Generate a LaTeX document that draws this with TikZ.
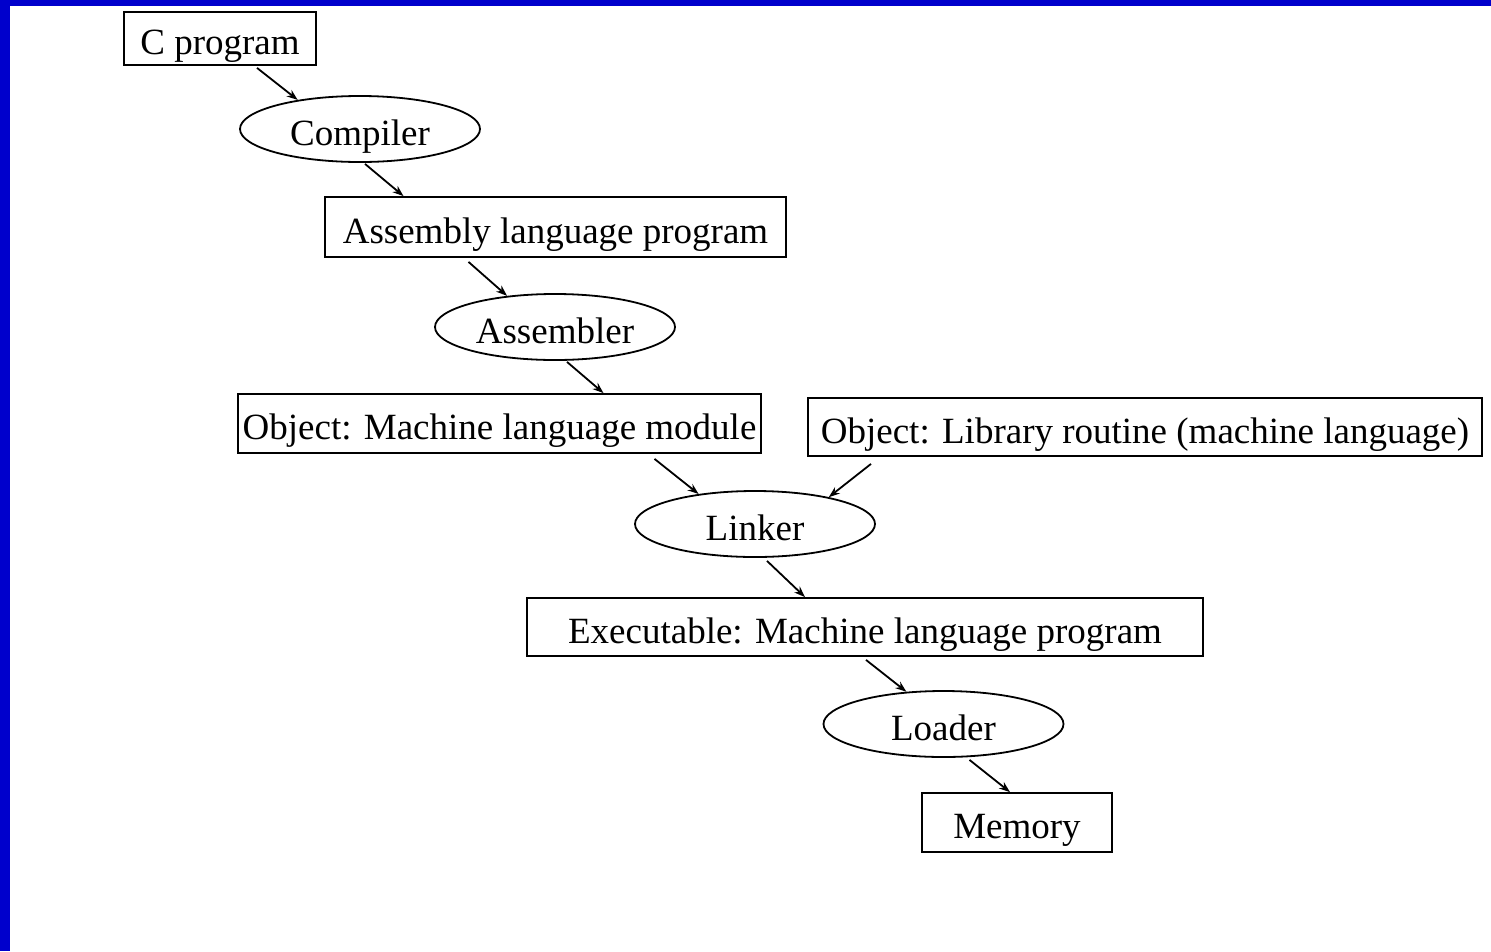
\documentclass[tikz,border=0pt]{standalone}
\usepackage{fontspec}
\setmainfont{Liberation Serif}
\usetikzlibrary{shapes.geometric,arrows.meta}
\definecolor{frameblue}{RGB}{0,0,204}
\tikzset{
  box/.style={draw=black, line width=1.8pt, rectangle, inner sep=0pt, minimum height=58pt, text height=32pt, text depth=0pt, font=\fontsize{37}{40}\selectfont},
  proc/.style={draw=black, line width=1.8pt, ellipse, inner sep=0pt, minimum width=240pt, minimum height=66pt, text height=32pt, text depth=0pt, font=\fontsize{37}{40}\selectfont},
  flow/.style={line width=1.8pt, -{Stealth[length=11pt,width=8pt]}}
}
\begin{document}
\begin{tikzpicture}[x=1pt,y=-1pt]
\useasboundingbox (0,0) rectangle (1491,951);
\fill[white] (0,0) rectangle (1491,951);
\fill[frameblue] (0,0) rectangle (10,951);
\fill[frameblue] (0,0) rectangle (1491,6);

\node[box, minimum width=192pt, minimum height=53pt] (cprog) at (220,38.5) {C program};
\node[proc] (compiler) at (360,129) {Compiler};
\node[box, minimum width=461pt, minimum height=60pt] (asm) at (555.5,227) {Assembly language program};
\node[proc] (assembler) at (555,327) {Assembler};
\node[box, minimum width=523pt, minimum height=59pt] (objmod) at (499.5,423.5) {Object: Machine language module};
\node[box, minimum width=674pt, minimum height=58pt] (lib) at (1145,427) {Object: Library routine (machine language)};
\node[proc] (linker) at (755,524) {Linker};
\node[box, minimum width=676pt, minimum height=58pt] (exe) at (865,627) {Executable: Machine language program};
\node[proc] (loader) at (943.5,724) {Loader};
\node[box, minimum width=190pt, minimum height=59pt] (mem) at (1017,822.5) {Memory};

\draw[flow] ([xshift=37pt,yshift=-2pt]cprog.south) -- (compiler.155);
\draw[flow] ([xshift=5pt,yshift=-1pt]compiler.south) -- ([xshift=-152pt]asm.north);
\draw[flow] ([xshift=-87pt,yshift=-4pt]asm.south) -- (assembler.147);
\draw[flow] ([xshift=12pt,yshift=-1pt]assembler.south) -- ([xshift=104pt]objmod.north);
\draw[flow] ([xshift=155pt,yshift=-5pt]objmod.south) -- (linker.152);
\draw[flow] ([xshift=-274pt,yshift=-7pt]lib.south) -- (linker.20);
\draw[flow] ([xshift=12pt,yshift=-3pt]linker.south) -- ([xshift=-60pt]exe.north);
\draw[flow] ([xshift=1pt,yshift=-3pt]exe.south) -- (loader.139);
\draw[flow] ([xshift=26pt,yshift=-2pt]loader.south) -- ([xshift=-7pt]mem.north);
\end{tikzpicture}
\end{document}
